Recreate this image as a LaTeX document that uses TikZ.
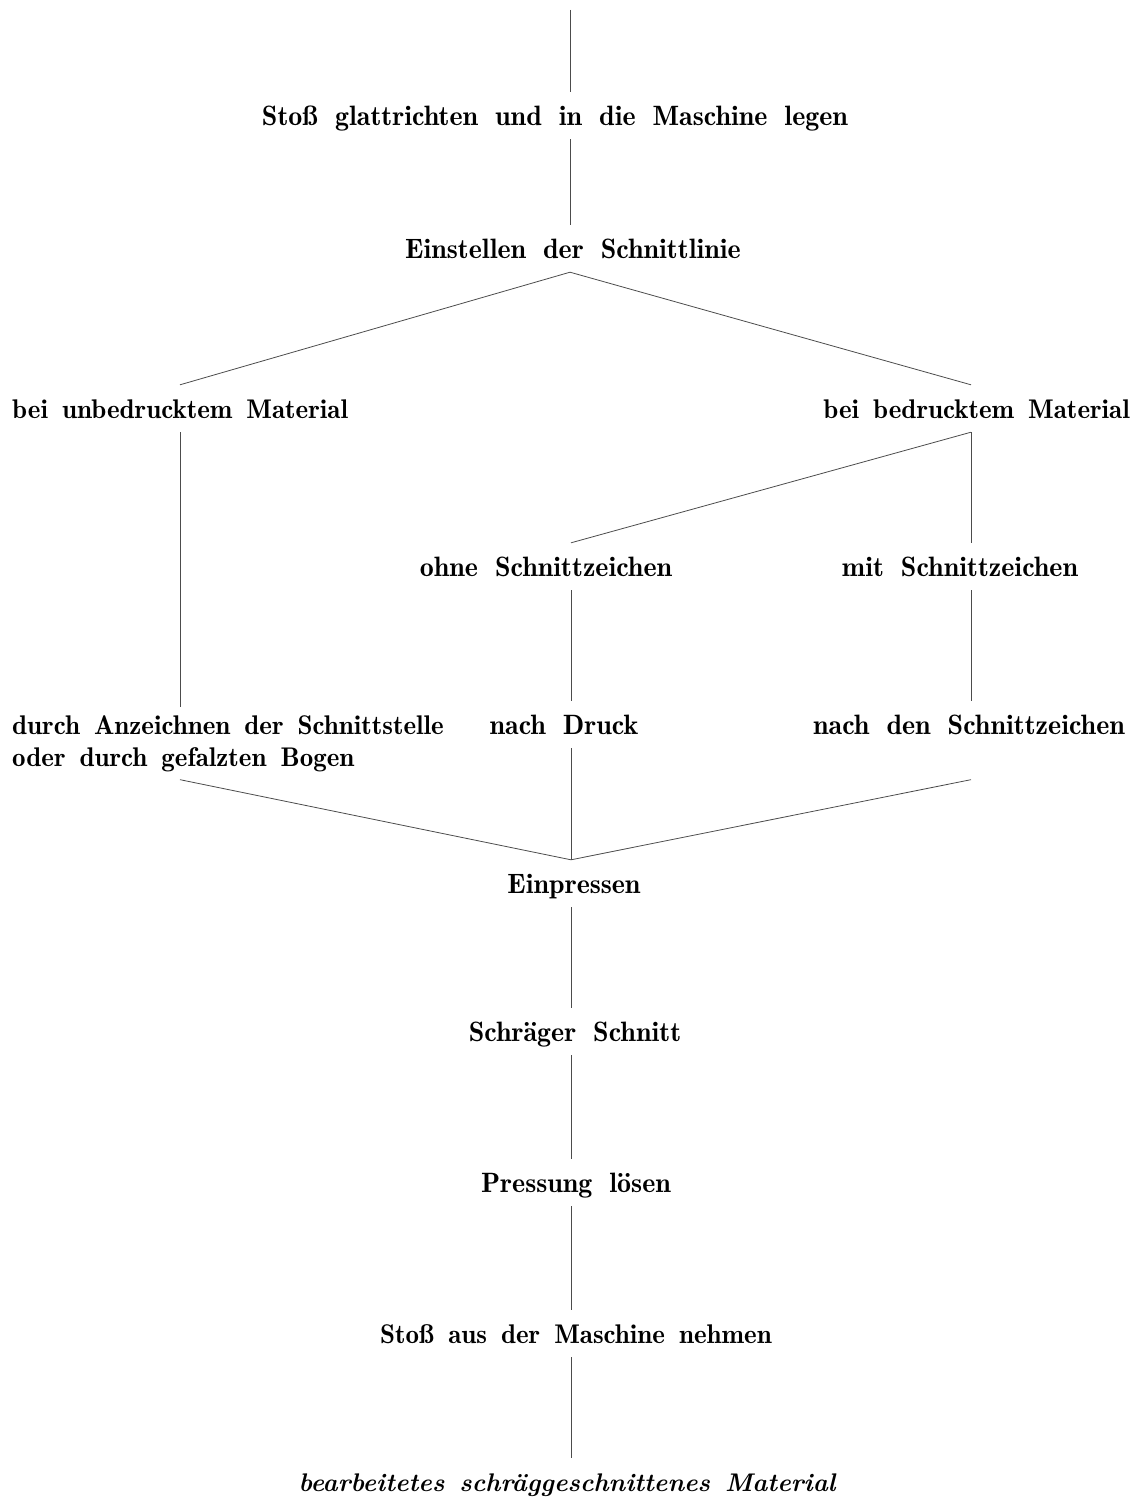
\documentclass[tikz,border=0pt]{standalone}
\usepackage{fontspec}
\setmainfont{Latin Modern Roman}
\newfontfamily\demifont{Latin Modern Roman Demi}
\newcommand\chartfont{\demifont\fontsize{28}{32}\selectfont\spaceskip=17pt plus 3pt\relax}
\newcommand\chartfontsm{\demifont\fontsize{27}{32}\selectfont\spaceskip=14pt plus 3pt\relax}
\newcommand\chartfontit{\fontsize{25.5}{32}\selectfont\bfseries\itshape\spaceskip=15pt plus 3pt\relax}
\begin{document}
\begin{tikzpicture}[x=1pt,y=-1pt,
  lbl/.style={inner xsep=0pt, inner ysep=14pt, text height=19pt, text depth=0pt,
    font={\chartfont}, anchor=base},
  tight/.style={font={\chartfontsm}},
  multi/.style={inner xsep=0pt, inner ysep=8pt, align=left, anchor=north west,
    font={\chartfontsm}},
  conn/.style={draw=black!70, line width=0.8pt}]
\useasboundingbox (0,0) rectangle (1142,1501);

% columns for the connectors
\coordinate (spine) at (571,0);
\coordinate (colL) at (180,0);
\coordinate (colR) at (971,0);
\coordinate (top) at (570,10);

% labels
\node[lbl] (s1) at (555,125) {Stoß glattrichten und in die Maschine legen};
\node[lbl] (einst) at (573,258) {Einstellen der Schnittlinie};
\node[lbl, tight, anchor=base west] (unbed) at (12,418) {bei unbedrucktem Material};
\node[lbl, tight, anchor=base east] (bed) at (1130,418) {bei bedrucktem Material};
\node[lbl] (ohne) at (546,576) {ohne Schnittzeichen};
\node[lbl] (mit) at (960,576) {mit Schnittzeichen};
\node[multi] (durch) at (12,707) {durch Anzeichnen der Schnittstelle\\oder durch gefalzten Bogen};
\node[lbl] (druck) at (564,734) {nach Druck};
\node[lbl] (nachden) at (969,734) {nach den Schnittzeichen};
\node[lbl] (einp) at (574,893) {Einpressen};
\node[lbl] (schnitt) at (575,1041) {Schräger Schnitt};
\node[lbl] (press) at (576,1192) {Pressung lösen};
\node[lbl, tight] (s2) at (576,1343) {Stoß aus der Maschine nehmen};
\node[lbl, font={\chartfontit}] (ende) at (567,1491) {bearbeitetes schräggeschnittenes Material};

% connectors
\draw[conn] (top) -- (s1.north -| top);
\draw[conn] (s1.south -| top) -- (einst.north -| top);
\draw[conn] (unbed.north -| colL) -- (einst.south -| top) -- (bed.north -| colR);
\draw[conn] (unbed.south -| colL) -- (durch.north -| colL);
\draw[conn] (bed.south -| colR) -- (ohne.north -| spine);
\draw[conn] (bed.south -| colR) -- (mit.north -| colR);
\draw[conn] (mit.south -| colR) -- (nachden.north -| colR);
\draw[conn] (ohne.south -| spine) -- (druck.north -| spine);
\draw[conn] (druck.south -| spine) -- (einp.north -| spine);
\draw[conn] (durch.south -| colL) -- (einp.north -| spine) -- (durch.south -| colR);
\draw[conn] (einp.south -| spine) -- (schnitt.north -| spine);
\draw[conn] (schnitt.south -| spine) -- (press.north -| spine);
\draw[conn] (press.south -| spine) -- (s2.north -| spine);
\draw[conn] (s2.south -| spine) -- (ende.north -| spine);
\end{tikzpicture}
\end{document}
